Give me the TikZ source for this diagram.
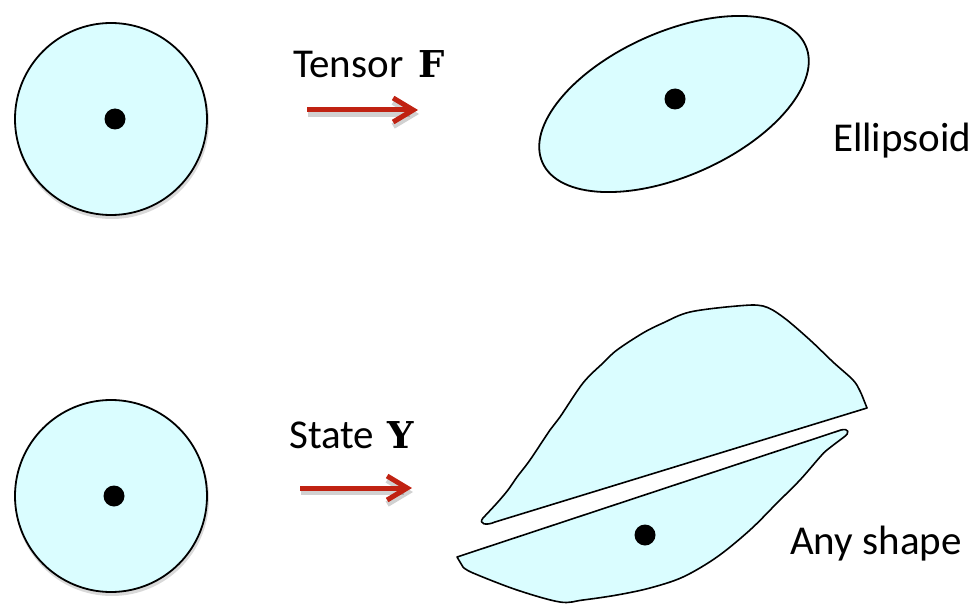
\documentclass[tikz,border=0pt]{standalone}
\usepackage{fontspec}
\setmainfont{Carlito}
\newfontfamily\bserif{DejaVu Serif}
\usetikzlibrary{shapes.geometric,arrows.meta}
\definecolor{lcyan}{RGB}{218,253,255}
\definecolor{ared}{RGB}{192,34,18}
\tikzset{
  disk/.style={circle,draw=black,line width=1.8pt,fill=lcyan,minimum size=192pt,inner sep=0pt},
  dotm/.style={circle,fill=black,minimum size=21pt,inner sep=0pt},
  piece/.style={draw=black,line width=1.6pt,fill=lcyan,line join=round},
  lbl/.style={anchor=base west,inner sep=0pt,font=\fontsize{41}{49}\selectfont},
  maparrow/.style={draw=ared,line width=5pt,-{Straight Barb[length=20pt,width=24pt]}},
  shadowarrow/.style={draw=black,opacity=0.18,line width=6pt,-{Straight Barb[length=20pt,width=24pt]}},
  diskshadow/.style={circle,fill=black,opacity=0.15,minimum size=194pt,inner sep=0pt}
}
\begin{document}
\begin{tikzpicture}[x=1pt,y=-1pt]
\useasboundingbox (0,0) rectangle (979,604);
% shadows for disks
\node[diskshadow] at (112,122) {};
\node[diskshadow] at (112,499) {};
% left disks
\node[disk] (c1) at (111,119) {};
\node[dotm] (d1) at (115,119) {};
\node[disk] (c2) at (111,496) {};
\node[dotm] (d2) at (114,496) {};
% ellipse
\node[ellipse,draw=black,line width=1.8pt,fill=lcyan,minimum width=288pt,minimum height=144pt,rotate=24,inner sep=0pt] (el) at (674,104) {};
\node[dotm] (d3) at (675,99) {};
% arrows
\coordinate (a1s) at (307,110);
\coordinate (a1e) at (418,110);
\coordinate (a2s) at (300,488);
\coordinate (a2e) at (412,488);
\draw[shadowarrow] ([shift={(1,4)}]a1s) -- ([shift={(1,4)}]a1e);
\draw[shadowarrow] ([shift={(1,4)}]a2s) -- ([shift={(1,4)}]a2e);
\draw[maparrow] (a1s) -- (a1e);
\draw[maparrow] (a2s) -- (a2e);
% labels
\node[lbl] (t1) at (293,78) {Tensor\hspace{15pt}{\bserif\bfseries\fontsize{37}{44}\selectfont F}};
\node[lbl] (t2) at (289,448) {State\hspace{13pt}{\bserif\bfseries\fontsize{37}{44}\selectfont Y}};
\node[lbl] (t3) at (833,152) {Ellipsoid};
\node[lbl] (t4) at (790,554) {Any shape};
% any shape: upper piece
\draw[piece] plot[smooth,tension=0.55] coordinates {(483,518) (497,503) (508,490) (517,477) (530,460) (550,430) (560,417) (583,383) (603,363) (617,350) (643,333) (663,323) (690,312) (737,306) (763,306) (783,317) (810,340) (833,362) (853,380) (860,391) (865,403) (867,408)}
  -- (495,522) .. controls (486,526) and (478,524) .. (483,518) -- cycle;
% any shape: lower piece
\draw[piece] (457,557) -- (841,430) .. controls (849,428) and (850,433) .. (844,437)
  -- plot[smooth,tension=0.55] coordinates {(844,437) (827,450) (820,457) (800,480) (777,503) (750,530) (717,557) (683,577) (650,588) (617,595) (583,600) (560,602) (517,590) (473,573) (463,567)} -- cycle;
\node[dotm] (d4) at (645,535) {};
\end{tikzpicture}
\end{document}
